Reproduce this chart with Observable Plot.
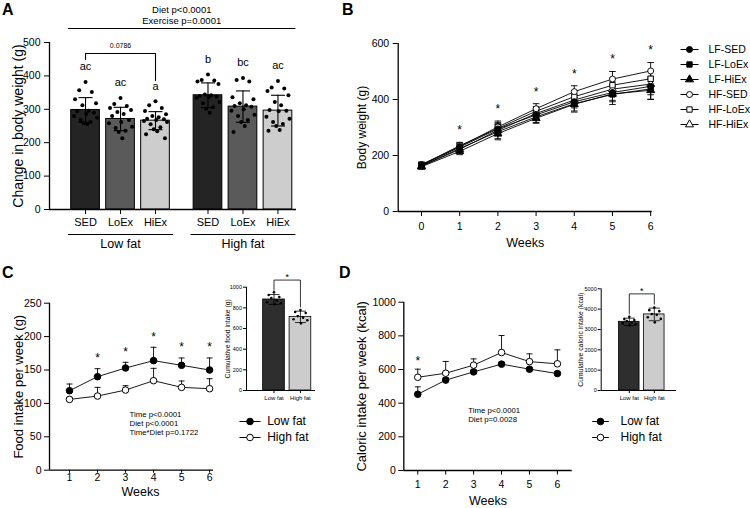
<!DOCTYPE html>
<html>
<head>
<meta charset="utf-8">
<script src="https://cdn.jsdelivr.net/npm/d3@7"></script>
<script src="https://cdn.jsdelivr.net/npm/@observablehq/plot@0.6"></script>
<style>
  html, body { margin: 0; padding: 0; background: #fff; }
  #fig { position: relative; width: 750px; height: 508px; overflow: hidden; font-family: "Liberation Sans", Arial, sans-serif; }
  #fig > * { position: absolute; }
  .letter { font-weight: bold; font-size: 16px; line-height: 1; }
</style>
</head>
<body>
<div id="fig"></div>
<script>
// ---------- Panel A: change in body weight by diet and exercise ----------
const dietGroups = ["Low fat", "High fat"];
const exerciseGroups = ["SED", "LoEx", "HiEx"];
const exerciseColors = ["#242424", "#5a5a5a", "#cdcdcd"];
const gainMeanLF = [298, 271, 266];
const gainMeanHF = [342, 308, 296];
const gainSdLF = [37, 35, 27];
const gainSdHF = [37, 47, 46];
const gainLettersLF = ["ac", "ac", "a"];
const gainLettersHF = ["b", "bc", "ac"];
const lfSedGain = [382, 357, 352, 330, 318, 312, 296, 294, 290, 286, 280, 275, 268, 262, 258, 256];
const lfLoExGain = [334, 316, 310, 304, 298, 292, 286, 280, 268, 262, 258, 248, 244, 236, 232, 213];
const lfHiExGain = [324, 312, 304, 295, 285, 280, 276, 272, 270, 268, 265, 262, 255, 246, 240, 234, 225, 213];
const hfSedGain = [404, 388, 386, 383, 376, 344, 342, 340, 338, 336, 334, 322, 318, 306, 302, 290];
const hfLoExGain = [394, 388, 383, 336, 330, 318, 312, 310, 308, 300, 296, 284, 280, 268, 262, 250, 232];
const hfHiExGain = [385, 365, 362, 355, 342, 322, 312, 298, 296, 294, 278, 272, 262, 256, 250, 238, 236];
const gainTicks = [0, 100, 200, 300, 400, 500];
const gainStats = ["Diet p<0.0001", "Exercise p=0.0001"];
const gainTrendP = "0.0786";

// ---------- Panel B: body weight over time ----------
const weeksB = [0, 1, 2, 3, 4, 5, 6];
const weightSeries = ["LF-SED", "LF-LoEx", "LF-HiEx", "HF-SED", "HF-LoEx", "HF-HiEx"];
const weightSymbols = ["circle", "square", "triangle", "circle", "square", "triangle"];
const weightFills = ["black", "black", "black", "white", "white", "white"];
const weightLFSED = [165, 230, 295, 345, 392, 425, 447];
const weightLFLoEx = [163, 225, 285, 338, 385, 418, 438];
const weightLFHiEx = [160, 215, 278, 333, 383, 420, 433];
const weightHFSED = [168, 232, 302, 367, 428, 473, 502];
const weightHFLoEx = [166, 235, 297, 358, 410, 451, 474];
const weightHFHiEx = [162, 222, 290, 350, 398, 437, 455];
const weightSdLFSED = [9, 12, 20, 17, 22, 28, 30];
const weightSdLFLoEx = [9, 12, 25, 20, 30, 36, 38];
const weightSdLFHiEx = [9, 12, 22, 18, 24, 28, 32];
const weightSdHFSED = [9, 12, 21, 18, 21, 27, 30];
const weightSdHFLoEx = [9, 12, 20, 17, 22, 26, 28];
const weightSdHFHiEx = [9, 12, 20, 17, 22, 26, 28];
const weightTicks = [0, 200, 400, 600];
const weightStarWeeks = [1, 2, 3, 4, 5, 6];

// ---------- Panel C: weekly food intake ----------
const weeksCD = [1, 2, 3, 4, 5, 6];
const intakeDiets = ["Low fat", "High fat"];
const intakeFills = ["black", "white"];
const foodLF = [119, 140, 153, 164, 157, 150];
const foodHF = [106, 111, 120, 134, 124, 122];
const foodSdLF = [10, 12, 8.5, 20, 11, 18];
const foodSdHF = [3, 13, 6.5, 18.5, 9.5, 15];
const foodTicks = [0, 50, 100, 150, 200, 250];
const foodStarWeeks = [2, 3, 4, 5, 6];
const foodStats = ["Time p<0.0001", "Diet p<0.0001", "Time*Diet p=0.1722"];
const foodCumLF = [950, 925, 905, 895, 870, 855, 845, 835];
const foodCumHF = [780, 760, 750, 720, 705, 690, 680, 650];
const foodCumMean = [881, 713];
const foodCumSd = [48, 55];
const foodCumTicks = [0, 200, 400, 600, 800, 1000];

// ---------- Panel D: weekly caloric intake ----------
const calLF = [453, 537, 586, 632, 602, 576];
const calHF = [554, 578, 626, 701, 647, 634];
const calSdLF = [44, 15, 12, 12, 10, 10];
const calSdHF = [48, 70, 37, 101, 46, 83];
const calTicks = [0, 200, 400, 600, 800, 1000];
const calStarWeeks = [1];
const calStats = ["Time p<0.0001", "Diet p=0.0028"];
const calCumLF = [3620, 3510, 3460, 3420, 3330, 3300, 3260, 3200];
const calCumHF = [4080, 3950, 3900, 3760, 3720, 3600, 3520, 3350];
const calCumMean = [3376, 3740];
const calCumSd = [182, 310];
const calCumTicks = [0, 1000, 2000, 3000, 4000, 5000];

// ---------- shared helpers ----------
const FONT = '"Liberation Sans", Arial, Helvetica, sans-serif';
const fig = document.getElementById("fig");
const intFormat = (d) => String(d);
function place(node, left, top) {
  node.style.position = "absolute";
  node.style.left = left + "px";
  node.style.top = top + "px";
  fig.appendChild(node);
  return node;
}
function baseStyle(size) {
  return {fontFamily: FONT, fontSize: size + "px", background: "transparent", color: "black", overflow: "visible"};
}
// horizontal cap for error bars; r is its half-width in pixels
const capSymbol = {
  draw(context, size) {
    const w = Math.sqrt(size / Math.PI);
    context.moveTo(-w, 0);
    context.lineTo(w, 0);
  }
};
function errorBars(data, x, y, sd, {both = true, capR = 4, strokeWidth = 1} = {}) {
  const hi = (d) => y(d) + sd(d);
  const lo = both ? (d) => y(d) - sd(d) : y;
  const marks = [
    Plot.ruleX(data, {x, y1: lo, y2: hi, stroke: "black", strokeWidth}),
    Plot.dot(data, {x, y: hi, symbol: capSymbol, r: capR, stroke: "black", fill: "none", strokeWidth})
  ];
  if (both) marks.push(Plot.dot(data, {x, y: lo, symbol: capSymbol, r: capR, stroke: "black", fill: "none", strokeWidth}));
  return marks;
}
// vertical axis title, centred on the frame
function yTitle(text, dx, fontSize) {
  return Plot.text([text], {frameAnchor: "left", textAnchor: "middle", dx, rotate: -90, text: (d) => d, fontSize});
}
function legendPlot({names, symbols, fills, width, height, marginLeft, lineLength, marginTop, marginBottom, textDx, fontSize, r}) {
  return Plot.plot({
    width, height, marginLeft, marginRight: width - marginLeft - lineLength, marginTop, marginBottom,
    x: {domain: [0, 1], axis: null},
    y: {type: "point", domain: names, padding: 0, axis: null},
    symbol: {domain: names, range: symbols},
    color: {domain: names, range: fills},
    style: baseStyle(fontSize),
    marks: [
      Plot.link(names, {x1: 0, x2: 1, y1: (d) => d, y2: (d) => d, stroke: "black", strokeWidth: 1}),
      Plot.dot(names, {x: 0.5, y: (d) => d, symbol: (d) => d, fill: (d) => d, stroke: "black", r, strokeWidth: 1}),
      Plot.text(names, {x: 1, y: (d) => d, text: (d) => d, textAnchor: "start", dx: textDx})
    ]
  });
}
function cumulativeInset({cats, means, sds, dots, fills, ticks, yMax, label, width, height, marginLeft, marginRight, marginTop, marginBottom, xDomain, labelDx}) {
  const rows = cats.map((cat, i) => ({cat, pos: i, mean: means[i], sd: sds[i], dots: dots[i]}));
  const spread = [0, -0.2, 0.2, -0.1, 0.1, -0.26, 0.26, 0.02];
  const dotRows = rows.flatMap((b) => b.dots.map((v, i) => ({pos: b.pos + spread[i % spread.length], v})));
  const tops = rows.map((b) => b.mean + b.sd);
  const bracketTop = d3.max(tops) + 0.14 * yMax;
  const bracket = [
    {x: 0, y: tops[0] + 0.04 * yMax}, {x: 0, y: bracketTop},
    {x: 1, y: bracketTop}, {x: 1, y: tops[1] + 0.04 * yMax}
  ];
  return Plot.plot({
    width, height, marginLeft, marginRight, marginTop, marginBottom,
    x: {domain: xDomain}, y: {domain: [0, yMax]},
    color: {domain: cats, range: fills},
    style: baseStyle(5.5),
    marks: [
      Plot.rectY(rows, {x1: (d) => d.pos - 0.41, x2: (d) => d.pos + 0.41, y1: 0, y2: "mean", fill: "cat", stroke: "black", strokeWidth: 0.8}),
      ...errorBars(rows, (d) => d.pos, (d) => d.mean, (d) => d.sd, {both: true, capR: 5.5, strokeWidth: 0.8}),
      Plot.dot(dotRows, {x: "pos", y: "v", r: 1.3, fill: "black"}),
      Plot.line(bracket, {x: "x", y: "y", stroke: "black", strokeWidth: 0.8}),
      Plot.text(["*"], {x: 0.5, y: bracketTop, dy: -3, text: (d) => d, fontSize: 9}),
      Plot.ruleY([0], {stroke: "black", strokeWidth: 1}),
      Plot.ruleX([xDomain[0]], {stroke: "black", strokeWidth: 1}),
      Plot.axisY({ticks, tickFormat: intFormat, tickSize: 3, tickPadding: 1.5, label: null}),
      Plot.axisX({ticks: [0, 1], tickFormat: (i) => cats[i], tickSize: 3, tickPadding: 2, label: null, fontSize: 6}),
      yTitle(label, labelDx, 6.8)
    ]
  });
}
function panelLetter(text, left, top) {
  const div = document.createElement("div");
  div.className = "letter";
  div.textContent = text;
  place(div, left, top);
}

// ---------- Panel A ----------
{
  const means = [gainMeanLF, gainMeanHF];
  const sds = [gainSdLF, gainSdHF];
  const letters = [gainLettersLF, gainLettersHF];
  const dots = [[lfSedGain, lfLoExGain, lfHiExGain], [hfSedGain, hfLoExGain, hfHiExGain]];
  const groupGap = 3.5;
  const bars = dietGroups.flatMap((diet, di) => exerciseGroups.map((ex, ei) => ({
    diet, ex, pos: di * groupGap + ei, mean: means[di][ei], sd: sds[di][ei], letter: letters[di][ei], dots: dots[di][ei]
  })));
  const spread = [0, -0.18, 0.18, -0.3, 0.3, -0.09, 0.09, -0.24, 0.24, 0.02, -0.33, 0.33, -0.14, 0.14, -0.05, 0.05, -0.27, 0.27];
  const dotRows = bars.flatMap((b) => b.dots.map((v, i) => ({pos: b.pos + spread[i % spread.length], v})));
  const groups = dietGroups.map((diet, di) => ({diet, from: di * groupGap - 0.5, to: di * groupGap + 2.5, mid: di * groupGap + 1}));
  const exByPos = new Map(bars.map((b) => [b.pos, b.ex]));
  const first = bars[0], last = bars[bars.length - 1];
  const lfSed = bars[0], lfHiEx = bars[2];
  const trendTop = d3.max(lfSed.dots) + 85;
  const trendPath = [
    {x: lfSed.pos, y: trendTop - 18}, {x: lfSed.pos, y: trendTop},
    {x: lfHiEx.pos, y: trendTop}, {x: lfHiEx.pos, y: d3.max(lfHiEx.dots) + 62}
  ];
  const xDomain = [-1.03, 6.03];
  const yMax = d3.max(gainTicks);
  place(Plot.plot({
    width: 300, height: 254, marginLeft: 49, marginRight: 4, marginTop: 42, marginBottom: 45,
    x: {domain: xDomain}, y: {domain: [0, yMax]},
    color: {domain: exerciseGroups, range: exerciseColors},
    style: baseStyle(10.5),
    marks: [
      Plot.rectY(bars, {x1: (d) => d.pos - 0.41, x2: (d) => d.pos + 0.41, y1: 0, y2: "mean", fill: "ex", stroke: "black", strokeWidth: 1}),
      ...errorBars(bars, (d) => d.pos, (d) => d.mean, (d) => d.sd, {both: true, capR: 7, strokeWidth: 1.1}),
      Plot.dot(dotRows, {x: "pos", y: "v", r: 2, fill: "black"}),
      Plot.text(bars, {x: "pos", y: (d) => d3.max(d.dots) + 45, text: "letter", fontSize: 11}),
      Plot.line(trendPath, {x: "x", y: "y", stroke: "black", strokeWidth: 1.1}),
      Plot.text([gainTrendP], {x: (lfSed.pos + lfHiEx.pos) / 2, y: trendTop, dy: -8, text: (d) => d, fontSize: 7}),
      Plot.link([yMax], {x1: first.pos - 0.5, x2: last.pos + 0.5, y1: (d) => d, y2: (d) => d, dy: -14, stroke: "black", strokeWidth: 1}),
      Plot.text([gainStats.join("\n")], {x: (first.pos + last.pos) / 2, y: yMax, dy: -37, lineAnchor: "top", lineHeight: 1.16, text: (d) => d, fontSize: 9.5}),
      Plot.link(groups, {x1: "from", x2: "to", y1: 0, y2: 0, dy: 25, stroke: "black", strokeWidth: 1}),
      Plot.text(groups, {x: "mid", y: 0, dy: 34, text: "diet", fontSize: 12.5}),
      Plot.ruleY([0], {stroke: "black", strokeWidth: 1.3}),
      Plot.ruleX([xDomain[0]], {stroke: "black", strokeWidth: 1.3}),
      Plot.axisY({ticks: gainTicks, tickFormat: intFormat, tickSize: 5, tickPadding: 4, label: null}),
      Plot.axisX({ticks: bars.map((b) => b.pos), tickFormat: (d) => exByPos.get(d), tickSize: 5, tickPadding: 4, label: null, fontSize: 11}),
      yTitle("Change in body weight (g)", -31, 14)
    ]
  }), 0, 0);
}

// ---------- Panel B ----------
{
  const means = [weightLFSED, weightLFLoEx, weightLFHiEx, weightHFSED, weightHFLoEx, weightHFHiEx];
  const sds = [weightSdLFSED, weightSdLFLoEx, weightSdLFHiEx, weightSdHFSED, weightSdHFLoEx, weightSdHFHiEx];
  const rows = weightSeries.flatMap((series, si) => weeksB.map((week, wi) => ({series, week, mean: means[si][wi], sd: sds[si][wi]})));
  const drawOrder = rows.slice().reverse();
  const stars = weightStarWeeks.map((week) => ({week, top: d3.max(rows.filter((r) => r.week === week), (r) => r.mean + r.sd)}));
  const xDomain = [-0.61, 6.04];
  place(Plot.plot({
    width: 335, height: 254, marginLeft: 57.7, marginRight: 23.3, marginTop: 43, marginBottom: 43,
    x: {domain: xDomain}, y: {domain: [0, d3.max(weightTicks)]},
    symbol: {domain: weightSeries, range: weightSymbols},
    color: {domain: weightSeries, range: weightFills},
    style: baseStyle(10.5),
    marks: [
      ...errorBars(rows, (d) => d.week, (d) => d.mean, (d) => d.sd, {both: true, capR: 3.3, strokeWidth: 0.9}),
      Plot.line(rows, {x: "week", y: "mean", z: "series", stroke: "black", strokeWidth: 0.9}),
      Plot.dot(drawOrder, {x: "week", y: "mean", symbol: "series", fill: "series", stroke: "black", r: 3, strokeWidth: 0.9}),
      Plot.text(stars, {x: "week", y: "top", dy: -12, text: () => "*", fontSize: 12}),
      Plot.ruleY([0], {stroke: "black", strokeWidth: 1.3}),
      Plot.ruleX([xDomain[0]], {stroke: "black", strokeWidth: 1.3}),
      Plot.axisY({ticks: weightTicks, tickFormat: intFormat, tickSize: 5, tickPadding: 4, label: null}),
      Plot.axisX({ticks: weeksB, tickFormat: intFormat, tickSize: 5, tickPadding: 6.5, label: null}),
      yTitle("Body weight (g)", -35.7, 12),
      Plot.text(["Weeks"], {frameAnchor: "bottom", dy: 35, text: (d) => d, fontSize: 12.5})
    ]
  }), 340, 0);
  place(legendPlot({
    names: weightSeries, symbols: weightSymbols, fills: weightFills,
    width: 75, height: 105, marginLeft: 5, lineLength: 18, marginTop: 12, marginBottom: 14,
    textDx: 10, fontSize: 10.5, r: 3
  }), 675, 35);
}

// ---------- Panels C and D: weekly intake line charts ----------
function intakePanel({lf, hf, sdLf, sdHf, ticks, starWeeks, stats, yLabel, width, marginLeft, marginRight, marginTop, marginBottom, xDomain, yLabelDx, weeksDx, weeksDy, statsDx, statsDy, starDy, xTickSize, xTickPadding}) {
  const series = [lf, hf];
  const sds = [sdLf, sdHf];
  const rows = intakeDiets.flatMap((diet, di) => weeksCD.map((week, wi) => ({diet, week, mean: series[di][wi], sd: sds[di][wi]})));
  const stars = starWeeks.map((week) => ({week, top: d3.max(rows.filter((r) => r.week === week), (r) => r.mean + r.sd)}));
  return Plot.plot({
    width, height: 254, marginLeft, marginRight, marginTop, marginBottom,
    x: {domain: xDomain}, y: {domain: [0, d3.max(ticks)]},
    color: {domain: intakeDiets, range: intakeFills},
    style: baseStyle(10.5),
    marks: [
      ...errorBars(rows, (d) => d.week, (d) => d.mean, (d) => d.sd, {both: false, capR: 3, strokeWidth: 0.9}),
      Plot.line(rows, {x: "week", y: "mean", z: "diet", stroke: "black", strokeWidth: 0.9}),
      Plot.dot(rows, {x: "week", y: "mean", fill: "diet", stroke: "black", r: 3.3, strokeWidth: 1}),
      Plot.text(stars, {x: "week", y: "top", dy: starDy, text: () => "*", fontSize: 12}),
      Plot.text([stats.join("\n")], {frameAnchor: "bottom-left", dx: statsDx, dy: statsDy, lineAnchor: "top", textAnchor: "start", lineHeight: 1.15, text: (d) => d, fontSize: 7.8}),
      Plot.ruleY([0], {stroke: "black", strokeWidth: 1.3}),
      Plot.ruleX([xDomain[0]], {stroke: "black", strokeWidth: 1.3}),
      Plot.axisY({ticks, tickFormat: intFormat, tickSize: 5, tickPadding: 3, label: null}),
      Plot.axisX({ticks: weeksCD, tickFormat: intFormat, tickSize: xTickSize, tickPadding: xTickPadding, label: null}),
      yTitle(yLabel, yLabelDx, 13),
      Plot.text(["Weeks"], {frameAnchor: "bottom", dx: weeksDx, dy: weeksDy, text: (d) => d, fontSize: 12.5})
    ]
  });
}

place(intakePanel({
  lf: foodLF, hf: foodHF, sdLf: foodSdLF, sdHf: foodSdHF, ticks: foodTicks, starWeeks: foodStarWeeks, stats: foodStats,
  yLabel: "Food intake per week (g)", width: 220, marginLeft: 49, marginRight: 7, marginTop: 48.7, marginBottom: 38.3,
  xDomain: [0.286, 6.14], yLabelDx: -31, weeksDx: 9, weeksDy: 26, statsDx: 80, statsDy: -59.7, starDy: -10.5,
  xTickSize: 3, xTickPadding: 0.5
}), 0, 254);
place(cumulativeInset({
  cats: intakeDiets, means: foodCumMean, sds: foodCumSd, dots: [foodCumLF, foodCumHF], fills: ["#2e2e2e", "#cccccc"],
  ticks: foodCumTicks, yMax: d3.max(foodCumTicks), label: "Cumulative food intake (g)",
  width: 110, height: 150, marginLeft: 31, marginRight: 10, marginTop: 24.7, marginBottom: 22,
  xDomain: [-1.04, 1.57], labelDx: -19
}), 215, 262);
place(legendPlot({
  names: intakeDiets, symbols: ["circle", "circle"], fills: intakeFills,
  width: 100, height: 40, marginLeft: 5, lineLength: 21, marginTop: 10.7, marginBottom: 13.3,
  textDx: 6.7, fontSize: 12, r: 3.3
}), 234, 410);

place(intakePanel({
  lf: calLF, hf: calHF, sdLf: calSdLF, sdHf: calSdHF, ticks: calTicks, starWeeks: calStarWeeks, stats: calStats,
  yLabel: "Caloric intake per week (kcal)", width: 240, marginLeft: 63.3, marginRight: 8.3, marginTop: 47.7, marginBottom: 38,
  xDomain: [0.5, 6.53], yLabelDx: -41.6, weeksDx: 0, weeksDy: 34, statsDx: 64.4, statsDy: -63.7, starDy: -8,
  xTickSize: 4.5, xTickPadding: 6
}), 340, 254);
place(cumulativeInset({
  cats: intakeDiets, means: calCumMean, sds: calCumSd, dots: [calCumLF, calCumHF], fills: ["#2e2e2e", "#cccccc"],
  ticks: calCumTicks, yMax: d3.max(calCumTicks), label: "Cumulative caloric intake (kcal)",
  width: 110, height: 150, marginLeft: 28.7, marginRight: 6, marginTop: 26.3, marginBottom: 22,
  xDomain: [-1.124, 1.888], labelDx: -20
}), 572, 262);
place(legendPlot({
  names: intakeDiets, symbols: ["circle", "circle"], fills: intakeFills,
  width: 110, height: 40, marginLeft: 4.7, lineLength: 16.6, marginTop: 10.7, marginBottom: 13.3,
  textDx: 11.7, fontSize: 12, r: 3.3
}), 587, 410);

panelLetter("A", 2, 2);
panelLetter("B", 342, 2);
panelLetter("C", 2, 265);
panelLetter("D", 339, 265);
</script>
</body>
</html>
